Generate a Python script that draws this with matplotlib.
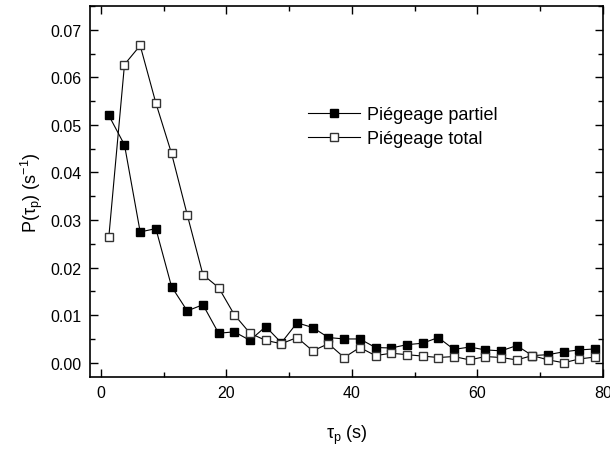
import numpy as np
import matplotlib
matplotlib.use('Agg')
import matplotlib.pyplot as plt
from matplotlib.ticker import MultipleLocator

plt.rcParams['font.family'] = ['Liberation Sans', 'DejaVu Sans']
plt.rcParams['mathtext.fontset'] = 'custom'
plt.rcParams['mathtext.rm'] = 'Liberation Sans'
plt.rcParams['mathtext.it'] = 'Liberation Sans'

# bin centres (s)
tau = 1.25 + 2.5 * np.arange(32)

partiel = [0.0520, 0.0458, 0.0275, 0.0282, 0.0160, 0.0109, 0.0122, 0.0062,
           0.0065, 0.0047, 0.0076, 0.0042, 0.0084, 0.0074, 0.0053, 0.0050,
           0.0050, 0.0032, 0.0031, 0.0038, 0.0041, 0.0053, 0.0028, 0.0033,
           0.0027, 0.0025, 0.0036, 0.0015, 0.0017, 0.0023, 0.0027, 0.0029]

total = [0.0264, 0.0627, 0.0667, 0.0546, 0.0440, 0.0311, 0.0185, 0.0158,
         0.0101, 0.0062, 0.0047, 0.0040, 0.0053, 0.0025, 0.0040, 0.0011,
         0.0032, 0.0015, 0.0020, 0.0017, 0.0014, 0.0011, 0.0013, 0.0006,
         0.0013, 0.0011, 0.0006, 0.0015, 0.0006, 0.0000, 0.0008, 0.0012]

fig = plt.figure(figsize=(6.10, 4.52), dpi=100)
ax = fig.add_axes([0.1475, 0.1637, 0.841, 0.8208])

ax.plot(tau, partiel, '-s', color='black', lw=0.8, ms=6.2,
        mfc='black', mec='black', label='Piégeage partiel')
ax.plot(tau, total, '-s', color='black', lw=0.8, ms=6.2,
        mfc='white', mec='#333333', mew=1.0, label='Piégeage total')

ax.set_xlim(-1.75, 80)
ax.set_ylim(-0.003, 0.075)
ax.xaxis.set_major_locator(MultipleLocator(20))
ax.xaxis.set_minor_locator(MultipleLocator(10))
ax.yaxis.set_major_locator(MultipleLocator(0.01))
ax.yaxis.set_minor_locator(MultipleLocator(0.005))
ax.yaxis.set_major_formatter(matplotlib.ticker.FormatStrFormatter('%.2f'))

ax.tick_params(which='both', direction='in', top=True, right=True,
               labelsize=11.5, width=1)
ax.tick_params(which='major', length=6, pad=6)
ax.tick_params(which='minor', length=3.5)
for s in ax.spines.values():
    s.set_linewidth(1.2)

ax.set_xlabel(r'$\tau_p$ (s)', fontsize=13, labelpad=16)
ax.set_ylabel(r'P($\tau_p$) (s$^{-1}$)', fontsize=13, labelpad=4)

ax.legend(loc='upper left', bbox_to_anchor=(0.41, 0.75), frameon=False,
          fontsize=13, handlelength=2.9, handletextpad=0.4,
          labelspacing=0.4, borderaxespad=0)

fig.savefig('out.png', dpi=100)
